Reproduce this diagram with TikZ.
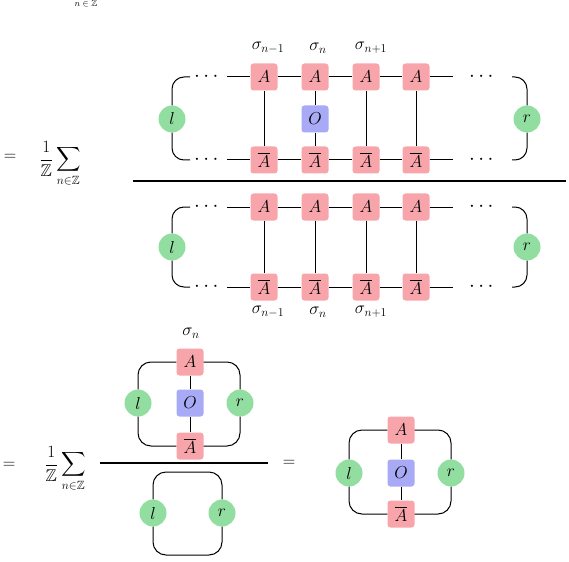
\documentclass[tikz,border=0pt]{standalone}
\usepackage{amsmath,amssymb}
\definecolor{boxred}{RGB}{247,164,170}
\definecolor{boxblue}{RGB}{168,170,245}
\definecolor{circgreen}{RGB}{146,222,160}
\begin{document}
\begin{tikzpicture}[x=1pt,y=-1pt,
  tbox/.style={rounded corners=3pt, minimum size=27pt, inner sep=0pt, font=\fontsize{19}{21}\selectfont},
  abox/.style={tbox, fill=boxred},
  obox/.style={tbox, fill=boxblue},
  env/.style={circle, fill=circgreen, minimum size=27pt, inner sep=0pt, font=\fontsize{19}{21}\selectfont},
  wire/.style={line width=1pt},
  lbl/.style={font=\fontsize{18}{20}\selectfont},
  dots/.style={font=\fontsize{21}{23}\selectfont},
  eqs/.style={font=\fontsize{19}{21}\selectfont},
  sumlbl/.style={font=\fontsize{17}{19}\selectfont},
  fracline/.style={line width=1.6pt}]
\useasboundingbox (0,0) rectangle (569,561);
\clip (0,0) rectangle (569,561);

% subscript of the previous line, cut at the top edge
\node[font=\fontsize{9}{10}\selectfont] (prevsub) at (86,4) {$n\in\mathbb{Z}$};

% ===== first fraction: numerator =====
\foreach \i/\x in {1/264,2/315,3/366,4/416}{
  \node[abox] (ta\i) at (\x,77) {$A$};
  \node[abox] (tb\i) at (\x,160) {$\overline{A}$};
}
\node[obox] (to) at (315,119) {$O$};
\node[env] (tl) at (172,119) {$l$};
\node[env] (tr) at (527,119) {$r$};
\coordinate (tal) at (227,77);
\coordinate (tar) at (453,77);
\coordinate (tbl) at (227,160);
\coordinate (tbr) at (453,160);
\coordinate (tlt) at (190,77);
\coordinate (tlb) at (190,160);
\coordinate (trt) at (512,77);
\coordinate (trb) at (512,160);
\node[dots] (td1) at (208,77) {$\cdots$};
\node[dots] (td2) at (483,77) {$\cdots$};
\node[dots] (td3) at (208,160) {$\cdots$};
\node[dots] (td4) at (483,160) {$\cdots$};
\draw[wire] (tal) -- (ta1) -- (ta2) -- (ta3) -- (ta4) -- (tar);
\draw[wire] (tbl) -- (tb1) -- (tb2) -- (tb3) -- (tb4) -- (tbr);
\draw[wire] (ta1) -- (tb1);
\draw[wire] (ta2) -- (to) -- (tb2);
\draw[wire] (ta3) -- (tb3);
\draw[wire] (ta4) -- (tb4);
\draw[wire, rounded corners=12pt] (tlt) -| (tl.north);
\draw[wire, rounded corners=12pt] (tlb) -| (tl.south);
\draw[wire, rounded corners=12pt] (trt) -| (tr.north);
\draw[wire, rounded corners=12pt] (trb) -| (tr.south);
\node[lbl] (ts1) at (268,48) {$\sigma_{n-1}$};
\node[lbl] (ts2) at (318,48) {$\sigma_{n}$};
\node[lbl] (ts3) at (371,48) {$\sigma_{n+1}$};

% fraction line 1
\coordinate (f1a) at (133,181);
\coordinate (f1b) at (566,181);
\draw[fracline] (f1a) -- (f1b);
\node[eqs] (eq1) at (10,157) {$=$};
\node[sumlbl] (sum1) at (60,164) {$\displaystyle\frac{1}{\mathbb{Z}}\sum_{n\in\mathbb{Z}}$};

% ===== first fraction: denominator =====
\foreach \i/\x in {1/264,2/315,3/366,4/416}{
  \node[abox] (ua\i) at (\x,207) {$A$};
  \node[abox] (ub\i) at (\x,287) {$\overline{A}$};
}
\node[env] (ul) at (172,247) {$l$};
\node[env] (ur) at (527,247) {$r$};
\coordinate (ual) at (227,207);
\coordinate (uar) at (453,207);
\coordinate (ubl) at (227,287);
\coordinate (ubr) at (453,287);
\coordinate (ult) at (190,207);
\coordinate (ulb) at (190,287);
\coordinate (urt) at (512,207);
\coordinate (urb) at (512,287);
\node[dots] (ud1) at (208,207) {$\cdots$};
\node[dots] (ud2) at (483,207) {$\cdots$};
\node[dots] (ud3) at (208,287) {$\cdots$};
\node[dots] (ud4) at (483,287) {$\cdots$};
\draw[wire] (ual) -- (ua1) -- (ua2) -- (ua3) -- (ua4) -- (uar);
\draw[wire] (ubl) -- (ub1) -- (ub2) -- (ub3) -- (ub4) -- (ubr);
\foreach \i in {1,2,3,4}{ \draw[wire] (ua\i) -- (ub\i); }
\draw[wire, rounded corners=12pt] (ult) -| (ul.north);
\draw[wire, rounded corners=12pt] (ulb) -| (ul.south);
\draw[wire, rounded corners=12pt] (urt) -| (ur.north);
\draw[wire, rounded corners=12pt] (urb) -| (ur.south);
\node[lbl] (us1) at (268,312) {$\sigma_{n-1}$};
\node[lbl] (us2) at (318,312) {$\sigma_{n}$};
\node[lbl] (us3) at (371,312) {$\sigma_{n+1}$};

% ===== second fraction =====
\node[lbl] (bs) at (191,333) {$\sigma_{n}$};
\node[abox] (ba) at (190,362) {$A$};
\node[obox] (bo) at (190,403) {$O$};
\node[abox] (bb) at (190,446) {$\overline{A}$};
\node[env] (bl) at (138,403) {$l$};
\node[env] (br) at (240,403) {$r$};
\draw[wire] (ba) -- (bo) -- (bb);
\draw[wire, rounded corners=13pt] (ba.west) -| (bl.north);
\draw[wire, rounded corners=13pt] (bl.south) |- (bb.west);
\draw[wire, rounded corners=13pt] (ba.east) -| (br.north);
\draw[wire, rounded corners=13pt] (br.south) |- (bb.east);

\coordinate (f2a) at (100,463);
\coordinate (f2b) at (268,463);
\draw[fracline] (f2a) -- (f2b);
\node[eqs] (eq2) at (9,465) {$=$};
\node[sumlbl] (sum2) at (65,469) {$\displaystyle\frac{1}{\mathbb{Z}}\sum_{n\in\mathbb{Z}}$};
\node[eqs] (eq3) at (289,463) {$=$};

\node[env] (dl) at (153,513) {$l$};
\node[env] (dr) at (222,513) {$r$};
\coordinate (dtop) at (188,472);
\coordinate (dbot) at (188,555);
\draw[wire, rounded corners=13pt] (dl.north) |- (dtop) -| (dr.north);
\draw[wire, rounded corners=13pt] (dl.south) |- (dbot) -| (dr.south);

% ===== result =====
\node[abox] (ca) at (401,430) {$A$};
\node[obox] (co) at (401,473) {$O$};
\node[abox] (cb) at (401,514) {$\overline{A}$};
\node[env] (cl) at (349,473) {$l$};
\node[env] (cr) at (451,473) {$r$};
\draw[wire] (ca) -- (co) -- (cb);
\draw[wire, rounded corners=13pt] (ca.west) -| (cl.north);
\draw[wire, rounded corners=13pt] (cl.south) |- (cb.west);
\draw[wire, rounded corners=13pt] (ca.east) -| (cr.north);
\draw[wire, rounded corners=13pt] (cr.south) |- (cb.east);
\end{tikzpicture}
\end{document}
